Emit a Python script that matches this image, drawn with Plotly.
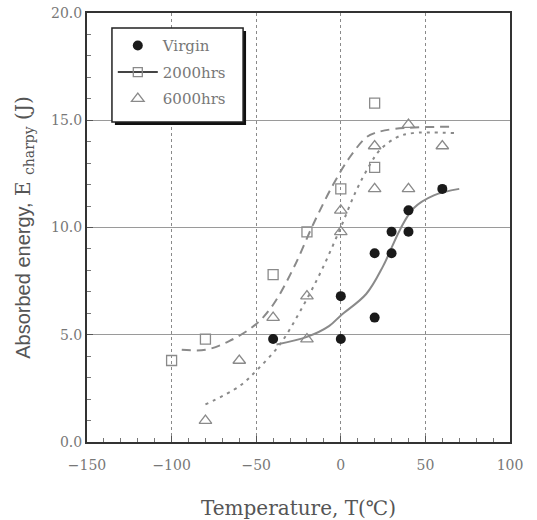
import plotly.graph_objects as go

# ---- data ----
virgin_T = [-40, 0, 0, 20, 20, 30, 30, 40, 40, 60]
virgin_E = [4.8, 4.8, 6.8, 5.8, 8.8, 8.8, 9.8, 9.8, 10.8, 11.8]

h2000_T = [-100, -80, -40, -20, 0, 20, 20]
h2000_E = [3.8, 4.8, 7.8, 9.8, 11.8, 12.8, 15.8]

h6000_T = [-80, -60, -40, -20, -20, 0, 0, 20, 20, 40, 40, 60]
h6000_E = [1.0, 3.8, 5.8, 6.8, 4.8, 9.8, 10.8, 11.8, 13.8, 11.8, 14.8, 13.8]

# fitted curves
virgin_fit_T = [-38, -20, -7, 0, 15, 25, 35, 43, 55, 70]
virgin_fit_E = [4.55, 4.9, 5.4, 5.9, 6.9, 8.2, 9.9, 10.9, 11.5, 11.8]

h2000_fit_T = [-94, -80, -66, -50, -40, -28, -16, -4.5, 5.5, 15, 20, 32, 64]
h2000_fit_E = [4.3, 4.3, 4.7, 5.5, 6.4, 8.1, 10.2, 12.0, 13.3, 14.2, 14.4, 14.6, 14.7]

h6000_fit_T = [-80, -60, -49, -36, -24, -12, -0.6, 9, 17, 23, 33, 42.5, 67]
h6000_fit_E = [1.75, 2.6, 3.4, 4.55, 6.1, 7.9, 9.9, 11.7, 12.9, 13.6, 14.2, 14.4, 14.4]

x_ticks = [-150, -100, -50, 0, 50, 100]
x_tick_text = ["\u2212150", "\u2212100", "\u221250", "0", "50", "100"]
y_ticks = [0, 5, 10, 15, 20]

serif = "DejaVu Serif"
gray = "#8a8a8a"

fig = go.Figure()

# curves
fig.add_trace(go.Scatter(x=virgin_fit_T, y=virgin_fit_E, mode="lines", line=dict(color=gray, width=2, shape="spline"),
                         showlegend=False, hoverinfo="skip"))
fig.add_trace(go.Scatter(x=h2000_fit_T, y=h2000_fit_E, mode="lines", line=dict(color=gray, width=2, dash="9px,6px", shape="spline"),
                         showlegend=False, hoverinfo="skip"))
fig.add_trace(go.Scatter(x=h6000_fit_T, y=h6000_fit_E, mode="lines", line=dict(color=gray, width=2, dash="3px,5px", shape="spline"),
                         showlegend=False, hoverinfo="skip"))

# points
fig.add_trace(go.Scatter(x=virgin_T, y=virgin_E, mode="markers", name="Virgin", legendgroup="a",
                         marker=dict(symbol="circle", size=10, color="#1a1a1a")))
fig.add_trace(go.Scatter(x=h2000_T, y=h2000_E, mode="markers", name="2000hrs", showlegend=False,
                         marker=dict(symbol="square-open", size=10, color=gray, line=dict(width=1.3))))
fig.add_trace(go.Scatter(x=[None], y=[None], mode="lines+markers", name="2000hrs", legendgroup="b",
                         line=dict(color="#444", width=2),
                         marker=dict(symbol="square-open", size=9, color=gray, line=dict(width=1.3))))
fig.add_trace(go.Scatter(x=h6000_T, y=h6000_E, mode="markers", name="6000hrs", legendgroup="c",
                         marker=dict(symbol="triangle-up-open", size=11, color=gray, line=dict(width=1.3))))

# legend frame with shadow (pixel box 112..243 x 28..122)
fig.add_shape(type="rect", xref="paper", yref="paper", x0=0.066, x1=0.376, y0=0.739, y1=0.958,
              fillcolor="#111", line=dict(width=0), layer="above")
fig.add_shape(type="rect", xref="paper", yref="paper", x0=0.059, x1=0.369, y0=0.746, y1=0.965,
              fillcolor="white", line=dict(color="#222", width=1.5), layer="above")

fig.update_layout(
    width=537, height=520,
    margin=dict(l=87, r=27, t=13, b=78),
    plot_bgcolor="white", paper_bgcolor="white",
    font=dict(family=serif, size=14, color="#666"),
    legend=dict(x=0.061, y=0.962, xanchor="left", yanchor="top",
                bgcolor="rgba(0,0,0,0)", borderwidth=0,
                font=dict(family=serif, size=15, color="#777"),
                itemwidth=40, tracegroupgap=4, traceorder="grouped"),
    xaxis=dict(range=[-150, 100], tickvals=x_ticks, ticktext=x_tick_text, automargin=False,
               showgrid=True, gridcolor="#8a8a8a", gridwidth=1, griddash="dot",
               ticks="inside", ticklen=6, tickcolor="#555",
               minor=dict(dtick=10, ticks="inside", ticklen=4, tickcolor="#777", showgrid=False),
               showline=True, linecolor="#333", linewidth=2, mirror=True, zeroline=False,
               ticklabelstandoff=9,
               tickfont=dict(family=serif, size=14, color="#777"),
               title=dict(text="Temperature, T(\u2103)", font=dict(family=serif, size=20, color="#555"), standoff=32)),
    yaxis=dict(range=[0, 20], tickvals=y_ticks, tickformat=".1f", automargin=False,
               showgrid=True, gridcolor="#9a9a9a", gridwidth=1,
               ticks="inside", ticklen=6, tickcolor="#555",
               minor=dict(dtick=1, ticks="inside", ticklen=4, tickcolor="#777", showgrid=False),
               showline=True, linecolor="#333", linewidth=2, mirror=True, zeroline=False,
               tickfont=dict(family=serif, size=14, color="#777"),
               title=dict(text="<span style='font-family:Liberation Sans'>Absorbed energy,</span> E <sub>charpy</sub> (J)",
                          font=dict(family=serif, size=20, color="#555"), standoff=15)),
)

fig.write_html("out.html")
